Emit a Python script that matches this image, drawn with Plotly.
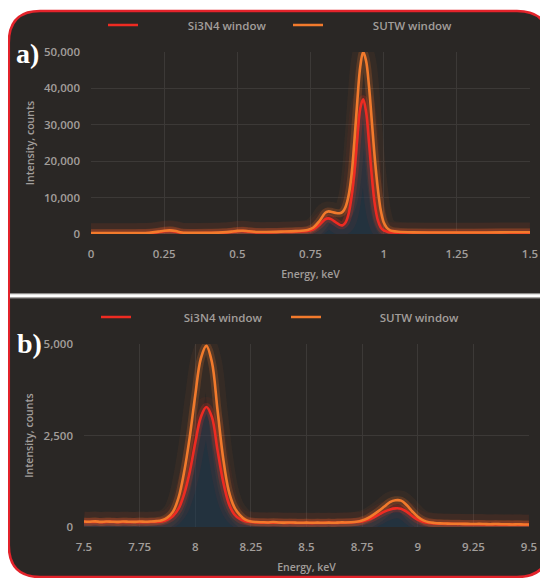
import plotly.graph_objects as go

# The page body has an 8 px margin, so the figure is drawn 8 px right/down of the window origin.
OFF = 8
W, H = 548 - OFF, 578 - OFF

# ---------------- data: panel a) ----------------
energy_a = [0.00, 0.05, 0.10, 0.15, 0.20, 0.23, 0.25, 0.27, 0.29, 0.31, 0.35, 0.40, 0.45, 0.48,
            0.50, 0.52, 0.54, 0.57, 0.60, 0.65, 0.70, 0.74, 0.76, 0.78, 0.80, 0.81, 0.82, 0.835,
            0.85, 0.86, 0.87, 0.88, 0.89, 0.90, 0.91, 0.92, 0.93, 0.94, 0.95, 0.96, 0.97, 0.98,
            0.99, 1.00, 1.01, 1.02, 1.03, 1.05, 1.10, 1.20, 1.30, 1.40, 1.50]
si3n4_a = [150, 150, 150, 170, 250, 500, 750, 850, 650, 300, 200, 250, 350, 550,
           750, 800, 650, 450, 450, 550, 650, 850, 1300, 2500, 4000, 4300, 4100, 3300,
           2500, 2400, 3200, 5500, 10000, 17000, 26500, 34500, 37000, 33500, 25000, 15500, 8000, 3800,
           1800, 1000, 700, 500, 400, 350, 300, 300, 300, 330, 350]
sutw_a = [250, 250, 250, 270, 350, 650, 900, 1000, 800, 400, 300, 350, 450, 650,
          850, 900, 750, 550, 550, 650, 800, 1100, 1800, 3500, 5800, 6200, 6100, 5800,
          5700, 6100, 7500, 10500, 16000, 25500, 36500, 46000, 50000, 47500, 40500, 30500, 20500, 12500,
          6500, 3200, 1800, 1100, 800, 600, 450, 400, 400, 450, 500]

# ---------------- data: panel b) ----------------
energy_b = [7.500, 7.525, 7.550, 7.575, 7.600, 7.625, 7.650, 7.675, 7.700, 7.725, 7.750, 7.775,
            7.800, 7.825, 7.850, 7.875, 7.900, 7.925, 7.950, 7.975, 8.000, 8.025, 8.050, 8.075,
            8.100, 8.125, 8.150, 8.175, 8.200, 8.225, 8.250, 8.275, 8.300, 8.325, 8.350, 8.375,
            8.400, 8.425, 8.450, 8.475, 8.500, 8.525, 8.550, 8.575, 8.600, 8.625, 8.650, 8.675,
            8.700, 8.725, 8.750, 8.775, 8.800, 8.825, 8.850, 8.875, 8.900, 8.925, 8.950, 8.975,
            9.000, 9.025, 9.050, 9.075, 9.100, 9.125, 9.150, 9.175, 9.200, 9.225, 9.250, 9.275,
            9.300, 9.325, 9.350, 9.375, 9.400, 9.425, 9.450, 9.475, 9.500]
si3n4_b = [140, 135, 140, 130, 135, 140, 130, 135, 130, 135, 130, 130,
           135, 140, 150, 200, 300, 500, 900, 1500, 2300, 3000, 3280, 3000,
           2100, 1250, 650, 350, 220, 160, 135, 125, 120, 120, 115, 120,
           110, 115, 110, 110, 110, 105, 110, 110, 115, 110, 115, 120,
           125, 135, 150, 195, 260, 340, 420, 480, 510, 500, 420, 300,
           200, 140, 110, 95, 90, 85, 85, 80, 80, 75, 75, 75,
           70, 70, 70, 65, 65, 65, 65, 60, 60]
sutw_b = [150, 145, 155, 140, 150, 145, 140, 150, 145, 140, 150, 145,
          150, 160, 185, 260, 420, 800, 1500, 2450, 3600, 4600, 4950, 4500,
          3200, 1900, 1000, 550, 330, 200, 150, 135, 130, 125, 135, 125,
          120, 125, 120, 115, 120, 115, 120, 115, 120, 115, 125, 125,
          130, 145, 180, 240, 330, 440, 560, 680, 730, 720, 600, 430,
          280, 180, 130, 110, 100, 95, 90, 90, 85, 85, 80, 85,
          80, 75, 80, 75, 75, 70, 75, 70, 70]

series_names = ["Si3N4 window", "SUTW window"]
ticks_a = [0, 0.25, 0.5, 0.75, 1, 1.25, 1.5]
ticks_b = [7.5, 7.75, 8, 8.25, 8.5, 8.75, 9, 9.25, 9.5]

RED = "#ee2b22"
ORANGE = "#f27a2c"
BG = "#2a2725"
TXT = "#a29e9b"
GRID = "#3c3937"
FONT = "Open Sans"


def px_x(p):
    return (p - OFF) / W


def px_y(p):
    return 1 - (p - OFF) / H


fig = go.Figure()


def add_panel(xs, red, orange, xa, ya, legend, first_pad, second_pad):
    # blue shadow under the spectra
    fig.add_trace(go.Scatter(x=xs, y=red, mode="lines", line=dict(width=0, shape="spline"),
                             fill="tozeroy", fillcolor="rgba(28,62,88,0.5)",
                             hoverinfo="skip", showlegend=False, xaxis=xa, yaxis=ya))
    # glows
    for ys, rgb in ((red, "238,43,34"), (orange, "242,122,44")):
        fig.add_trace(go.Scatter(x=xs, y=ys, mode="lines",
                                 line=dict(width=20, color=f"rgba({rgb},0.06)", shape="spline"),
                                 hoverinfo="skip", showlegend=False, xaxis=xa, yaxis=ya,
                                 cliponaxis=False))
        fig.add_trace(go.Scatter(x=xs, y=ys, mode="lines",
                                 line=dict(width=8, color=f"rgba({rgb},0.2)", shape="spline"),
                                 hoverinfo="skip", showlegend=False, xaxis=xa, yaxis=ya,
                                 cliponaxis=False))
    nb = "\u00a0"
    fig.add_trace(go.Scatter(x=xs, y=red, mode="lines", name=nb * first_pad + series_names[0],
                             line=dict(width=2.6, color=RED, shape="spline"),
                             xaxis=xa, yaxis=ya, legend=legend, cliponaxis=False))
    fig.add_trace(go.Scatter(x=xs, y=orange, mode="lines", name=nb * second_pad + series_names[1],
                             line=dict(width=2.6, color=ORANGE, shape="spline"),
                             xaxis=xa, yaxis=ya, legend=legend, cliponaxis=False))


add_panel(energy_a, si3n4_a, sutw_a, "x", "y", "legend", 15, 15)
add_panel(energy_b, si3n4_b, sutw_b, "x2", "y2", "legend2", 16, 18)

axis_common = dict(showgrid=True, gridcolor=GRID, gridwidth=1, zeroline=False, showline=False,
                   ticks="", automargin=False,
                   tickfont=dict(family=FONT, size=11.5, color=TXT, weight=600),
                   title_font=dict(family=FONT, size=10.5, color=TXT, weight=600))

shapes = [
    # dark rounded panel with red border
    dict(type="path", xref="paper", yref="paper", layer="below",
         path=(f"M {px_x(40)},{px_y(11)} L {px_x(517)},{px_y(11)} "
               f"Q {px_x(549)},{px_y(11)} {px_x(549)},{px_y(43)} "
               f"L {px_x(549)},{px_y(545)} Q {px_x(549)},{px_y(577)} {px_x(517)},{px_y(577)} "
               f"L {px_x(40)},{px_y(577)} Q {px_x(8.8)},{px_y(577)} {px_x(8.8)},{px_y(545)} "
               f"L {px_x(8.8)},{px_y(43)} Q {px_x(8.8)},{px_y(11)} {px_x(40)},{px_y(11)} Z"),
         fillcolor=BG, line=dict(color="#e3232b", width=2.5)),
    # white separator
    dict(type="rect", xref="paper", yref="paper", layer="below",
         x0=px_x(10), x1=px_x(549), y0=px_y(298.5), y1=px_y(293),
         fillcolor="#8c8a89", line=dict(width=0)),
    dict(type="rect", xref="paper", yref="paper", layer="below",
         x0=px_x(10), x1=px_x(549), y0=px_y(297.3), y1=px_y(294.2),
         fillcolor="#ffffff", line=dict(width=0)),
]

annotations = [
    dict(text="<b>a)</b>", xref="paper", yref="paper", x=px_x(14), y=px_y(53),
         xanchor="left", yanchor="middle", showarrow=False,
         font=dict(family="Liberation Serif", size=28, color="#ffffff")),
    dict(text="<b>b)</b>", xref="paper", yref="paper", x=px_x(15), y=px_y(344),
         xanchor="left", yanchor="middle", showarrow=False,
         font=dict(family="Liberation Serif", size=28, color="#ffffff")),
]

legend_common = dict(orientation="h", xanchor="left", yanchor="middle",
                     bgcolor="rgba(0,0,0,0)", borderwidth=0,
                     font=dict(family=FONT, size=11.5, color=TXT, weight=600),
                     entrywidthmode="pixels", itemclick=False, itemdoubleclick=False)

fig.update_layout(
    template="none",
    width=W, height=H,
    margin=dict(l=0, r=0, t=0, b=0, autoexpand=False),
    paper_bgcolor="#ffffff", plot_bgcolor="rgba(0,0,0,0)",
    showlegend=True,
    shapes=shapes, annotations=annotations,
    legend=dict(x=px_x(103), y=px_y(25), entrywidth=140, **legend_common),
    legend2=dict(x=px_x(96), y=px_y(317), entrywidth=145, **legend_common),
    xaxis=dict(domain=[px_x(91), px_x(530)], range=[0, 1.5], tickvals=ticks_a,
               anchor="y", title=dict(text="Energy, keV", standoff=11),
               ticklabelstandoff=11, **axis_common),
    yaxis=dict(domain=[px_y(234), px_y(52)], range=[0, 50000], dtick=10000, tickformat=",",
               anchor="x", title=dict(text="Intensity, counts", standoff=7),
               ticklabelstandoff=10, **axis_common),
    xaxis2=dict(domain=[px_x(84), px_x(529)], range=[7.5, 9.5], tickvals=ticks_b,
                anchor="y2", title=dict(text="Energy, keV", standoff=11),
                ticklabelstandoff=11, **axis_common),
    yaxis2=dict(domain=[px_y(527), px_y(344)], range=[0, 5000], dtick=2500, tickformat=",",
                anchor="x2", title=dict(text="Intensity, counts", standoff=7),
                ticklabelstandoff=10, **axis_common),
)

fig.write_html("out.html")
